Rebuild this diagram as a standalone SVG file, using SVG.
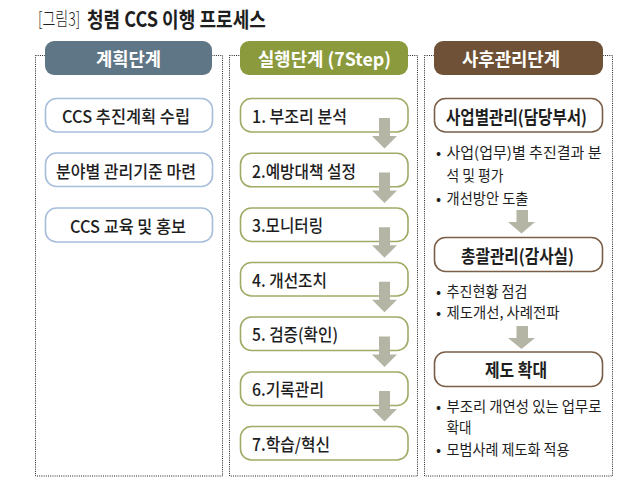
<svg xmlns="http://www.w3.org/2000/svg" width="640" height="484" viewBox="0 0 640 484">
<style>
text{font-family:"Noto Sans CJK KR","Noto Sans",sans-serif;fill:#1e1e1e;}
.frame{fill:none;stroke:#222;stroke-width:1;stroke-dasharray:1 1.2;}
.hdr text{fill:#fff;font-weight:bold;font-size:18px;text-anchor:middle;dominant-baseline:central;}
.bl{fill:#fff;stroke:#a6bedb;stroke-width:1.6;}
.gr{fill:#fff;stroke:#a0ab66;stroke-width:1.6;}
.br{fill:#fff;stroke:#7a5f49;stroke-width:1.6;}
.ct{font-size:17px;text-anchor:middle;dominant-baseline:central;font-weight:500;}
.lt{font-size:17px;dominant-baseline:central;font-weight:500;}
.rt{font-size:18px;text-anchor:middle;dominant-baseline:central;font-weight:bold;}
.bu{font-size:15px;dominant-baseline:central;}
.arr{fill:#b5b5a6;}
</style>
<rect width="640" height="484" fill="#fff"/>
<g id="title">
<text transform="translate(38,0) scale(0.74,1)" x="0" y="18" style="font-size:19px;font-weight:300;dominant-baseline:central">[그림3]</text>
<text transform="translate(87,0) scale(0.86,1)" x="0" y="18" style="font-size:21px;font-weight:bold;dominant-baseline:central">청렴 CCS 이행 프로세스</text>
</g>
<g id="frames">
<rect class="frame" x="35.5" y="55.5" width="187" height="420.5"/>
<rect class="frame" x="229.5" y="55.5" width="188" height="420.5"/>
<rect class="frame" x="424.5" y="55.5" width="188" height="420.5"/>
</g>
<g id="hdr-plan" class="hdr">
<rect x="45" y="41" width="167" height="34" rx="9" fill="#5f7686"/>
<text x="128.5" y="58" textLength="65" lengthAdjust="spacingAndGlyphs">계획단계</text>
</g>
<g id="hdr-exec" class="hdr">
<rect x="240" y="41" width="168" height="34" rx="9" fill="#8b9a3d"/>
<text x="324.5" y="58" textLength="133" lengthAdjust="spacingAndGlyphs">실행단계 (7Step)</text>
</g>
<g id="hdr-post" class="hdr">
<rect x="434" y="41" width="169" height="34" rx="9" fill="#6e5136"/>
<text x="511" y="58" textLength="98" lengthAdjust="spacingAndGlyphs">사후관리단계</text>
</g>
<g id="plan1"><rect class="bl" x="45.5" y="98.5" width="167" height="33.5" rx="11"/><text class="ct" x="126" y="115.5" textLength="128" lengthAdjust="spacingAndGlyphs">CCS 추진계획 수립</text></g>
<g id="plan2"><rect class="bl" x="45.5" y="153" width="167" height="33.5" rx="11"/><text class="ct" x="126" y="170" textLength="140" lengthAdjust="spacingAndGlyphs">분야별 관리기준 마련</text></g>
<g id="plan3"><rect class="bl" x="45.5" y="208" width="167" height="34" rx="11"/><text class="ct" x="128" y="225" textLength="116" lengthAdjust="spacingAndGlyphs">CCS 교육 및 홍보</text></g>
<g id="step1"><rect class="gr" x="240.5" y="98.5" width="167.5" height="33.5" rx="11"/><text class="lt" x="252" y="115.5" textLength="95" lengthAdjust="spacingAndGlyphs">1. 부조리 분석</text></g>
<g id="step2"><rect class="gr" x="240.5" y="153.3" width="167.5" height="33.5" rx="11"/><text class="lt" x="252" y="170" textLength="104" lengthAdjust="spacingAndGlyphs">2.예방대책 설정</text></g>
<g id="step3"><rect class="gr" x="240.5" y="208" width="167.5" height="33.5" rx="11"/><text class="lt" x="252" y="224.8" textLength="71" lengthAdjust="spacingAndGlyphs">3.모니터링</text></g>
<g id="step4"><rect class="gr" x="240.5" y="262.5" width="167.5" height="33.5" rx="11"/><text class="lt" x="252" y="279.3" textLength="75" lengthAdjust="spacingAndGlyphs">4. 개선조치</text></g>
<g id="step5"><rect class="gr" x="240.5" y="317" width="167.5" height="33.5" rx="11"/><text class="lt" x="252" y="333.8" textLength="86" lengthAdjust="spacingAndGlyphs">5. 검증(확인)</text></g>
<g id="step6"><rect class="gr" x="240.5" y="372" width="167.5" height="33.5" rx="11"/><text class="lt" x="252" y="388.8" textLength="72" lengthAdjust="spacingAndGlyphs">6.기록관리</text></g>
<g id="step7"><rect class="gr" x="240.5" y="426.5" width="167.5" height="33.5" rx="11"/><text class="lt" x="252" y="443.3" textLength="78" lengthAdjust="spacingAndGlyphs">7.학습/혁신</text></g>
<g id="post1"><rect class="br" x="434.5" y="98.5" width="168" height="33.5" rx="11"/><text class="rt" x="516.5" y="115.5" textLength="141" lengthAdjust="spacingAndGlyphs">사업별관리(담당부서)</text></g>
<g id="post1-notes">
<text class="bu" x="436" y="151">•</text><text class="bu" x="446.5" y="151" textLength="155" lengthAdjust="spacingAndGlyphs">사업(업무)별 추진결과 분</text>
<text class="bu" x="446.5" y="174" textLength="57" lengthAdjust="spacingAndGlyphs">석 및 평가</text>
<text class="bu" x="436" y="197">•</text><text class="bu" x="446.5" y="197" textLength="82" lengthAdjust="spacingAndGlyphs">개선방안 도출</text>
</g>
<g id="post2"><rect class="br" x="434.5" y="237.5" width="168" height="34" rx="11"/><text class="rt" x="517.5" y="254.5" textLength="113" lengthAdjust="spacingAndGlyphs">총괄관리(감사실)</text></g>
<g id="post2-notes">
<text class="bu" x="436" y="290">•</text><text class="bu" x="446.5" y="290" textLength="81" lengthAdjust="spacingAndGlyphs">추진현황 점검</text>
<text class="bu" x="436" y="311.5">•</text><text class="bu" x="446.5" y="311.5" textLength="113" lengthAdjust="spacingAndGlyphs">제도개선, 사례전파</text>
</g>
<g id="post3"><rect class="br" x="434.5" y="352" width="168" height="34.5" rx="11"/><text class="rt" x="516" y="369" textLength="62" lengthAdjust="spacingAndGlyphs">제도 확대</text></g>
<g id="post3-notes">
<text class="bu" x="436" y="405">•</text><text class="bu" x="446.5" y="405" textLength="155" lengthAdjust="spacingAndGlyphs">부조리 개연성 있는 업무로</text>
<text class="bu" x="446.5" y="426.5" textLength="25" lengthAdjust="spacingAndGlyphs">확대</text>
<text class="bu" x="436" y="448">•</text><text class="bu" x="446.5" y="448" textLength="123" lengthAdjust="spacingAndGlyphs">모범사례 제도화 적용</text>
</g>
<g id="connectors" class="arr">
<path d="M379,118 H390 V136 H397 L384.5,148.5 L372,136 H379 Z"/>
<path d="M379,172.6 H390 V190.6 H397 L384.5,203.1 L372,190.6 H379 Z"/>
<path d="M379,227.2 H390 V245.2 H397 L384.5,257.7 L372,245.2 H379 Z"/>
<path d="M379,281.8 H390 V299.8 H397 L384.5,312.3 L372,299.8 H379 Z"/>
<path d="M379,336.4 H390 V354.4 H397 L384.5,366.9 L372,354.4 H379 Z"/>
<path d="M379,391 H390 V409 H397 L384.5,421.5 L372,409 H379 Z"/>
<path d="M516.5,210 H528 V222 H535 L521.5,233.5 L508,222 H516.5 Z"/>
<path d="M516.5,326 H528 V338 H535 L521.5,349 L508,338 H516.5 Z"/>
</g>
</svg>
